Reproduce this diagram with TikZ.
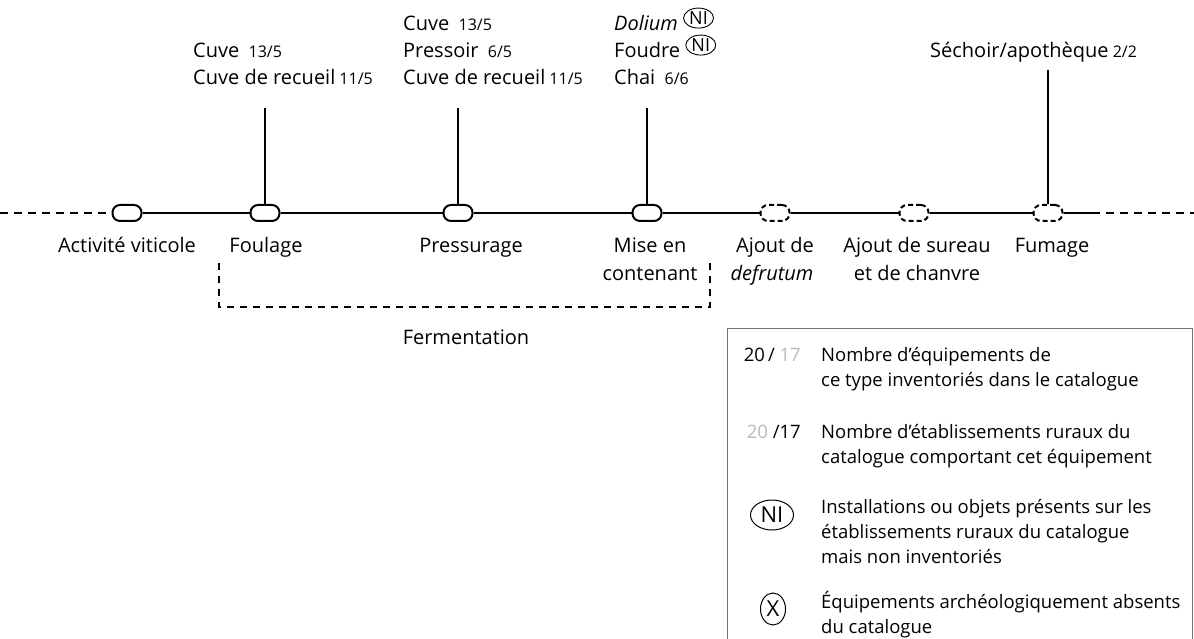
\documentclass[tikz,border=0pt]{standalone}
\usepackage{fontspec}
\setmainfont{Open Sans}
\usetikzlibrary{shapes.geometric}
\definecolor{numgray}{gray}{0.72}
\definecolor{boxgray}{gray}{0.45}
\newcommand{\nb}[1]{{\fontsize{16}{18}\selectfont\ #1}}
\newcommand{\NIs}{\tikz[baseline=-6.5pt]\node[draw,ellipse,inner sep=0pt,minimum width=30pt,minimum height=20pt,line width=0.9pt,font=\fontsize{18}{18}\selectfont]{NI};}
\begin{document}
\begin{tikzpicture}[x=1pt,y=-1pt,
  font=\fontsize{20}{27}\selectfont,
  stagebox/.style={draw,line width=2pt,fill=white,rounded corners=7.5pt,minimum width=29pt,minimum height=16pt,inner sep=0pt},
  dstagebox/.style={stagebox,dash pattern=on 5pt off 3pt},
  mainline/.style={line width=2.5pt},
  dline/.style={line width=1.8pt,dash pattern=on 8pt off 6pt},
  stem/.style={line width=1.3pt},
  lab/.style={anchor=base,inner sep=0pt},
  toplab/.style={anchor=base west,inner sep=0pt},
  leg/.style={anchor=base west,inner sep=0pt,font=\fontsize{18.5}{25}\selectfont},
  legkey/.style={anchor=base east,inner sep=0pt,font=\fontsize{18.5}{25}\selectfont}]
\useasboundingbox (0,0) rectangle (1194,639);
% capsules
\node[stagebox] (c1) at (127,213) {};
\node[stagebox] (c2) at (265,213) {};
\node[stagebox] (c3) at (458,213) {};
\node[stagebox] (c4) at (647,213) {};
\node[dstagebox] (c5) at (775,213) {};
\node[dstagebox] (c6) at (914,213) {};
\node[dstagebox] (c7) at (1048,213) {};
\coordinate (L) at (0,213);
\coordinate (E) at (1092,213);
\coordinate (R) at (1194,213);
\draw[dline] (L) -- (c1.west);
\draw[mainline] (c1.east) -- (c2.west) (c2.east) -- (c3.west) (c3.east) -- (c4.west)
  (c4.east) -- (c5.west) (c5.east) -- (c6.west) (c6.east) -- (c7.west) (c7.east) -- (E);
\draw[dline] (E) -- (R);
% bottom labels
\node[lab] (l1) at (127,252) {Activité viticole};
\node[lab] (l2) at (266,252) {Foulage};
\node[lab] (l3) at (471,252) {Pressurage};
\node[lab] (l4a) at (650,252) {Mise en};
\node[lab] (l4b) at (650,280) {contenant};
\node[lab] (l5a) at (775,252) {Ajout de};
\node[lab] (l5b) at (772,280) {\textit{defrutum}};
\node[lab] (l6a) at (917,252) {Ajout de sureau};
\node[lab] (l6b) at (917,280) {et de chanvre};
\node[lab] (l7) at (1052,252) {Fumage};
% fermentation bracket
\coordinate (f1) at (219,263);
\coordinate (f2) at (219,307);
\coordinate (f3) at (710,307);
\coordinate (f4) at (710,263);
\draw[line width=1.6pt,dash pattern=on 7pt off 6pt] (f1) -- (f2) -- (f3) -- (f4);
\node[lab] (ferm) at (466,344) {Fermentation};
% top labels
\node[toplab] (t2a) at (193,58) {Cuve \nb{13/5}};
\node[toplab] (t2b) at (193,85) {Cuve de recueil\nb{11/5}};
\node[toplab] (t3a) at (403,31) {Cuve \nb{13/5}};
\node[toplab] (t3b) at (403,58) {Pressoir \nb{6/5}};
\node[toplab] (t3c) at (403,85) {Cuve de recueil\nb{11/5}};
\node[toplab] (t4a) at (614,31) {\textit{Dolium} \NIs};
\node[toplab] (t4b) at (614,58) {Foudre \NIs};
\node[toplab] (t4c) at (614,85) {Chai \nb{6/6}};
\node[toplab] (t7) at (930,58) {Séchoir/apothèque\nb{2/2}};
\draw[stem] (c2.north) -- (c2.north |- 0,108);
\draw[stem] (c3.north) -- (c3.north |- 0,108);
\draw[stem] (c4.north) -- (c4.north |- 0,108);
\draw[stem] (c7.north) -- (c7.north |- 0,70);
% legend
\draw[boxgray,line width=1pt] (727,650) -- (727,328) -- (1192,328) -- (1192,650);
\node[legkey] (k1) at (801,361) {20\,/ \textcolor{numgray}{17}};
\node[leg] (d1a) at (821,361) {Nombre d’équipements de};
\node[leg] (d1b) at (821,386) {ce type inventoriés dans le catalogue};
\node[legkey] (k2) at (801,438) {\textcolor{numgray}{20} /17};
\node[leg] (d2a) at (821,438) {Nombre d’établissements ruraux du};
\node[leg] (d2b) at (821,463) {catalogue comportant cet équipement};
\node[draw,ellipse,line width=1pt,inner sep=0pt,minimum width=43pt,minimum height=30pt,font=\fontsize{22}{22}\selectfont] (k3) at (772,515) {NI};
\node[leg] (d3a) at (821,513) {Installations ou objets présents sur les};
\node[leg] (d3b) at (821,538) {établissements ruraux du catalogue};
\node[leg] (d3c) at (821,563) {mais non inventoriés};
\node[draw,ellipse,line width=1pt,inner sep=0pt,minimum width=25pt,minimum height=32pt,font=\fontsize{22}{22}\selectfont] (k4) at (773,609) {X};
\node[leg] (d4a) at (821,608) {Équipements archéologiquement absents};
\node[leg] (d4b) at (821,633) {du catalogue};
\end{tikzpicture}
\end{document}
